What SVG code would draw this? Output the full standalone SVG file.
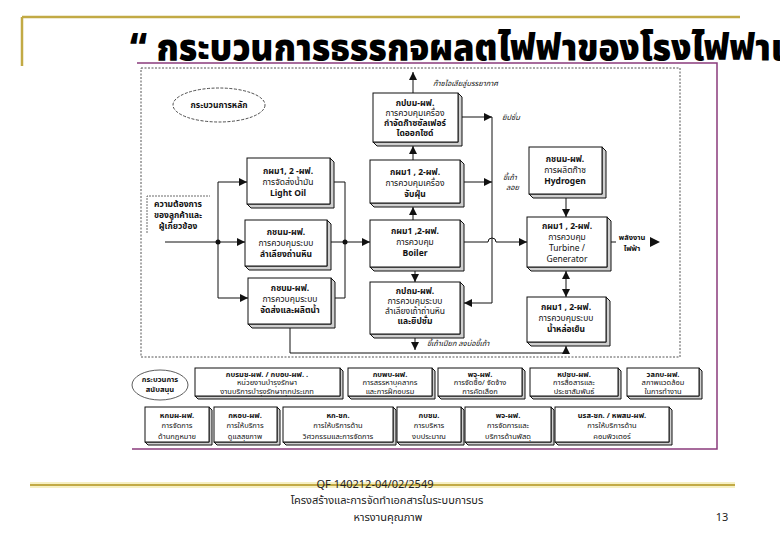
<svg xmlns="http://www.w3.org/2000/svg" width="780" height="540" viewBox="0 0 780 540">
<style>
text{font-family:"Noto Sans Thai","Tahoma","DejaVu Sans",sans-serif;fill:#111;text-anchor:middle}
.b{font-size:8.5px;font-weight:bold}
.n{font-size:8.5px}
.sb{font-size:7.5px;font-weight:bold}
.sn{font-size:7.5px}
.it{font-size:7.5px;font-style:italic;text-anchor:start}
.face{fill:#fff;stroke:#111;stroke-width:1}
.dep{fill:#cfcfcf;stroke:#111;stroke-width:1}
.ln{fill:none;stroke:#111;stroke-width:1}
.ft{font-size:11px;fill:#222}
</style>
<defs>
<marker id="a" viewBox="0 0 10 10" refX="10" refY="5" markerWidth="8" markerHeight="8" markerUnits="userSpaceOnUse" orient="auto-start-reverse"><path d="M0,0 L10,5 L0,10 z" fill="#111"/></marker>
</defs>
<rect width="780" height="540" fill="#fff"/>
<g id="slide">
<line x1="22" y1="17" x2="740" y2="17" stroke="#c2aa45" stroke-width="2.5"/>
<line x1="22" y1="17" x2="22" y2="66" stroke="#c2aa45" stroke-width="2.5"/>
<line x1="30" y1="485" x2="735" y2="485" stroke="#f6f0c4" stroke-width="6"/>
<line x1="30" y1="485" x2="735" y2="485" stroke="#c2aa45" stroke-width="2"/>
<text x="130" y="60" style="font-size:37px;font-weight:900;text-anchor:start;fill:#000" textLength="665" lengthAdjust="spacingAndGlyphs">“ กระบวนการธรรกจผลตไฟฟาของโรงไฟฟาแ</text>
</g>
<g id="frame">
<polyline points="137,63 717,63 717,449 132,449" fill="none" stroke="#8a3b7c" stroke-width="1.5"/>
<rect x="141" y="68" width="539" height="289" fill="none" stroke="#555" stroke-width="1" stroke-dasharray="2,1.5"/>
</g>
<g id="connectors">
<path class="ln" d="M165 242 H245" marker-end="url(#a)"/>
<path class="ln" d="M218 182 V298"/>
<path class="ln" d="M218 182 H247" marker-end="url(#a)"/>
<path class="ln" d="M218 298 H248" marker-end="url(#a)"/>
<circle cx="218" cy="242" r="2.5" fill="#111"/>
<path class="ln" d="M334 182 H345 V298 H335"/>
<path class="ln" d="M331 242 H370" marker-end="url(#a)"/>
<circle cx="345" cy="242" r="2.5" fill="#111"/>
<path class="ln" d="M413 93 V72" marker-end="url(#a)"/>
<path class="ln" d="M413 160 V146" marker-end="url(#a)"/>
<path class="ln" d="M413 220 V207" marker-end="url(#a)"/>
<path class="ln" d="M415 271 V282" marker-end="url(#a)"/>
<path class="ln" d="M415 338 V350" marker-end="url(#a)"/>
<path class="ln" d="M462 117 H492" marker-end="url(#a)"/>
<path class="ln" d="M464 182 H492" marker-end="url(#a)"/>
<path class="ln" d="M492 117 V303 H464" marker-end="url(#a)"/>
<path class="ln" d="M464 242 H488 A4 4 0 0 1 496 242 H527" marker-end="url(#a)"/>
<path class="ln" d="M566 198 V217" marker-end="url(#a)"/>
<path class="ln" d="M566 271 V297" marker-start="url(#a)" marker-end="url(#a)"/>
<path class="ln" d="M611 242 H616"/>
<polygon points="650,237 660,242 650,247" fill="#111"/>
<path class="ln" d="M290 328 V353 H566 V346" marker-end="url(#a)"/>
<text class="it" x="433" y="86">ก๊าซไอเสียสู่บรรยากาศ</text>
<text class="it" x="502" y="120">ยิปซั่ม</text>
<text class="it" x="503" y="180">ขี้เถ้า</text>
<text class="it" x="506" y="190">ลอย</text>
<text class="sb" x="632" y="240">พลังงาน</text>
<text class="sb" x="632" y="251">ไฟฟ้า</text>
<text class="it" x="427" y="346">ขี้เถ้าเปียก ลงบ่อขี้เถ้า</text>
</g>
<g id="main-label">
<ellipse cx="219" cy="105" rx="46" ry="17" fill="#fff" stroke="#222" stroke-width="0.8" stroke-dasharray="3,1.5"/>
<text class="b" x="219" y="108">กระบวนการหลัก</text>
</g>
<g id="customer">
<polyline points="147,233 147,196 210,196" fill="none" stroke="#444" stroke-width="0.8" stroke-dasharray="2,1"/>
<text class="b" x="178" y="207">ความต้องการ</text>
<text class="b" x="178" y="218">ของลูกค้าและ</text>
<text class="b" x="178" y="229">ผู้เกี่ยวข้อง</text>
</g>
<g id="lightoil">
<polygon class="dep" points="330,158 334,162 334,208 251,208 247,204 330,204"/>
<rect class="face" x="247" y="158" width="83" height="46"/>
<text class="b" x="288" y="174">กผม1, 2 -ผฟ.</text>
<text class="n" x="288" y="185">การจัดส่งน้ำมัน</text>
<text class="b" x="288" y="196">Light Oil</text>
</g>
<g id="coal">
<polygon class="dep" points="327,220 331,224 331,270 249,270 245,266 327,266"/>
<rect class="face" x="245" y="220" width="82" height="46"/>
<text class="b" x="286" y="235">กชนม-ผฟ.</text>
<text class="n" x="286" y="246">การควบคุมระบบ</text>
<text class="b" x="286" y="257">ลำเลียงถ่านหิน</text>
</g>
<g id="water">
<polygon class="dep" points="331,278 335,282 335,328 252,328 248,324 331,324"/>
<rect class="face" x="248" y="278" width="83" height="46"/>
<text class="b" x="290" y="291">กชบม-ผฟ.</text>
<text class="n" x="290" y="302">การควบคุมระบบ</text>
<text class="b" x="290" y="313">จัดส่งและผลิตน้ำ</text>
</g>
<g id="fgd">
<polygon class="dep" points="458,93 462,97 462,146 377,146 373,142 458,142"/>
<rect class="face" x="373" y="93" width="85" height="49"/>
<text class="b" x="415" y="106">กปบม-ผฟ.</text>
<text class="n" x="415" y="116">การควบคุมเครื่อง</text>
<text class="b" x="415" y="126">กำจัดก๊าซซัลเฟอร์</text>
<text class="b" x="415" y="136">ไดออกไซด์</text>
</g>
<g id="esp">
<polygon class="dep" points="460,160 464,164 464,207 374,207 370,203 460,203"/>
<rect class="face" x="370" y="160" width="90" height="43"/>
<text class="b" x="415" y="175">กผม1 , 2-ผฟ.</text>
<text class="n" x="415" y="186">การควบคุมเครื่อง</text>
<text class="b" x="415" y="197">จับฝุ่น</text>
</g>
<g id="boiler">
<polygon class="dep" points="460,220 464,224 464,271 374,271 370,267 460,267"/>
<rect class="face" x="370" y="220" width="90" height="47"/>
<text class="b" x="415" y="234">กผม1 ,2-ผฟ.</text>
<text class="n" x="415" y="245">การควบคุม</text>
<text class="b" x="415" y="256">Boiler</text>
</g>
<g id="ash">
<polygon class="dep" points="460,282 464,286 464,338 374,338 370,334 460,334"/>
<rect class="face" x="370" y="282" width="90" height="52"/>
<text class="b" x="415" y="294">กปถม-ผฟ.</text>
<text class="n" x="415" y="304">การควบคุมระบบ</text>
<text class="n" x="415" y="314">ลำเลียงเถ้าถ่านหิน</text>
<text class="b" x="415" y="324">และยิปซั่ม</text>
</g>
<g id="hydrogen">
<polygon class="dep" points="602,147 606,151 606,198 533,198 529,194 602,194"/>
<rect class="face" x="529" y="147" width="73" height="47"/>
<text class="b" x="565" y="162">กชนม-ผฟ.</text>
<text class="n" x="565" y="173">การผลิตก๊าซ</text>
<text class="b" x="565" y="184">Hydrogen</text>
</g>
<g id="turbine">
<polygon class="dep" points="607,217 611,221 611,271 531,271 527,267 607,267"/>
<rect class="face" x="527" y="217" width="80" height="50"/>
<text class="b" x="567" y="229">กผม1 , 2-ผฟ.</text>
<text class="n" x="567" y="240">การควบคุม</text>
<text class="n" x="567" y="251">Turbine /</text>
<text class="n" x="567" y="262">Generator</text>
</g>
<g id="cooling">
<polygon class="dep" points="606,297 610,301 610,346 531,346 527,342 606,342"/>
<rect class="face" x="527" y="297" width="79" height="45"/>
<text class="b" x="566" y="310">กผม1 , 2-ผฟ.</text>
<text class="n" x="566" y="321">การควบคุมระบบ</text>
<text class="b" x="566" y="332">น้ำหล่อเย็น</text>
</g>
<g id="support-label">
<ellipse cx="160" cy="385" rx="28" ry="15" fill="#fff" stroke="#333" stroke-width="0.8"/>
<text class="sb" x="160" y="382">กระบวนการ</text>
<text class="sb" x="160" y="392">สนับสนุน</text>
</g>
<g id="s-maint">
<polygon class="dep" points="340,368 343,371 343,399 198,399 195,396 340,396"/>
<rect class="face" x="195" y="368" width="145" height="28"/>
<text class="sb" x="267" y="377">กบรมช-ผฟ. / กบอบ-ผฟ. .</text>
<text class="sn" x="267" y="385">หน่วยงานบำรุงรักษา</text>
<text class="sn" x="267" y="394">งานบริการบำรุงรักษาทุกประเภท</text>
</g>
<g id="s-hr">
<polygon class="dep" points="432,368 435,371 435,399 351,399 348,396 432,396"/>
<rect class="face" x="348" y="368" width="84" height="28"/>
<text class="sb" x="390" y="377">กบพบ-ผฟ.</text>
<text class="sn" x="390" y="385">การสรรหาบุคลากร</text>
<text class="sn" x="390" y="394">และการฝึกอบรม</text>
</g>
<g id="s-purchase">
<polygon class="dep" points="522,368 525,371 525,399 441,399 438,396 522,396"/>
<rect class="face" x="438" y="368" width="84" height="28"/>
<text class="sb" x="480" y="377">พจ-ผฟ.</text>
<text class="sn" x="480" y="385">การจัดซื้อ/ จัดจ้าง</text>
<text class="sn" x="480" y="394">การคัดเลือก</text>
</g>
<g id="s-pr">
<polygon class="dep" points="618,368 621,371 621,399 533,399 530,396 618,396"/>
<rect class="face" x="530" y="368" width="88" height="28"/>
<text class="sb" x="574" y="377">หปชบ-ผฟ.</text>
<text class="sn" x="574" y="385">การสื่อสารและ</text>
<text class="sn" x="574" y="394">ประชาสัมพันธ์</text>
</g>
<g id="s-env">
<polygon class="dep" points="699,368 702,371 702,399 630,399 627,396 699,396"/>
<rect class="face" x="627" y="368" width="72" height="28"/>
<text class="sb" x="663" y="377">วลกบ-ผฟ.</text>
<text class="sn" x="663" y="385">สภาพแวดล้อม</text>
<text class="sn" x="663" y="394">ในการทำงาน</text>
</g>
<g id="s-law">
<polygon class="dep" points="209,407 212,410 212,445 148,445 145,442 209,442"/>
<rect class="face" x="145" y="407" width="64" height="35"/>
<text class="sb" x="177" y="418">หกมผ-ผฟ.</text>
<text class="sn" x="177" y="428">การจัดการ</text>
<text class="sn" x="177" y="439">ด้านกฎหมาย</text>
</g>
<g id="s-health">
<polygon class="dep" points="277,407 280,410 280,445 217,445 214,442 277,442"/>
<rect class="face" x="214" y="407" width="63" height="35"/>
<text class="sb" x="245" y="418">กหอบ-ผฟ.</text>
<text class="sn" x="245" y="428">การให้บริการ</text>
<text class="sn" x="245" y="439">ดูแลสุขภาพ</text>
</g>
<g id="s-eng">
<polygon class="dep" points="393,407 396,410 396,445 286,445 283,442 393,442"/>
<rect class="face" x="283" y="407" width="110" height="35"/>
<text class="sb" x="338" y="418">หก-ชก.</text>
<text class="sn" x="338" y="428">การให้บริการด้าน</text>
<text class="sn" x="338" y="439">วิศวกรรมและการจัดการ</text>
</g>
<g id="s-budget">
<polygon class="dep" points="461,407 464,410 464,445 400,445 397,442 461,442"/>
<rect class="face" x="397" y="407" width="64" height="35"/>
<text class="sb" x="429" y="418">กบชม.</text>
<text class="sn" x="429" y="428">การบริหาร</text>
<text class="sn" x="429" y="439">งบประมาณ</text>
</g>
<g id="s-supply">
<polygon class="dep" points="551,407 554,410 554,445 468,445 465,442 551,442"/>
<rect class="face" x="465" y="407" width="86" height="35"/>
<text class="sb" x="508" y="418">พจ-ผฟ.</text>
<text class="sn" x="508" y="428">การจัดการและ</text>
<text class="sn" x="508" y="439">บริการด้านพัสดุ</text>
</g>
<g id="s-computer">
<polygon class="dep" points="669,407 672,410 672,445 558,445 555,442 669,442"/>
<rect class="face" x="555" y="407" width="114" height="35"/>
<text class="sb" x="612" y="418">นรส-ชก. / หพสม-ผฟ.</text>
<text class="sn" x="612" y="428">การให้บริการด้าน</text>
<text class="sn" x="612" y="439">คอมพิวเตอร์</text>
</g>
<g id="footer">
<text class="ft" x="375" y="488">QF 140212-04/02/2549</text>
<text class="ft" x="387" y="504">โครงสร้างและการจัดทำเอกสารในระบบการบร</text>
<text class="ft" x="388" y="521">หารงานคุณภาพ</text>
<text class="ft" x="722" y="521">13</text>
</g>
</svg>
